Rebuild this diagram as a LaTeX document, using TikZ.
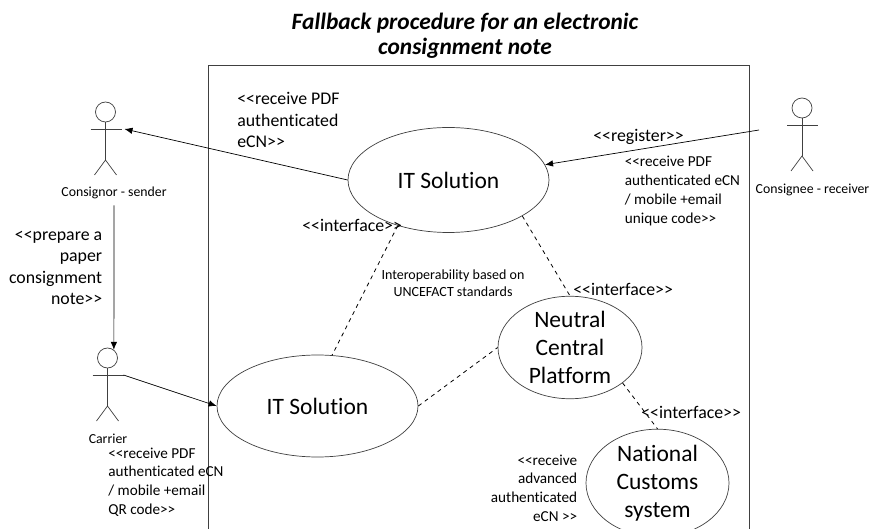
\documentclass[tikz,border=0pt]{standalone}
\usepackage{fontspec}
\usepackage{xcolor}
\usetikzlibrary{arrows.meta}
\usetikzlibrary{shapes.geometric}
\tikzset{>={Latex[length=8pt,width=6.5pt]}}
\newfontfamily\carlito[Ligatures=NoCommon]{Carlito}
\definecolor{linegray}{HTML}{404040}
\tikzset{
	usecase/.style={draw=linegray,ellipse,inner sep=0pt,align=center,font=\carlito\fontsize{23.5}{28}\selectfont},
	note/.style={inner sep=0pt,align=left,anchor=west,font=\carlito\fontsize{15.2}{18.7}\selectfont},
	bignote/.style={inner sep=0pt,font=\carlito\fontsize{17.8}{21.5}\selectfont},
	actorname/.style={inner sep=0pt,font=\carlito\fontsize{13.8}{15}\selectfont},
	link/.style={draw=black,line width=0.8pt,dash pattern=on 4pt off 4pt},
	pics/actor/.style={code={
		\node[draw=linegray,circle,minimum size=20pt,inner sep=0pt] (-head) at (0,0) {};
		\coordinate (-hand) at (16,17);
		\draw[linegray] (-head.south)--(0,48);
		\draw[linegray] (-15,17)--(-hand);
		\draw[linegray] (-11,63)--(0,48)--(11,63);
	}},
}

\begin{document}
\begin{tikzpicture}[x=1pt,y=-1pt,line width=0.7pt]
	\useasboundingbox[fill=white] (0,0) rectangle (870,529);
	\node[font=\carlito\bfseries\itshape\fontsize{23.4}{25}\selectfont,align=center,inner sep=0pt] (title) at (465,35.5) {Fallback procedure for an electronic\\consignment note};
	\coordinate (framebl) at (208.5,529);
	\coordinate (frametl) at (208.5,65.5);
	\coordinate (frametr) at (749,65.5);
	\coordinate (framebr) at (749,529);
	\draw[linegray] (framebl)--(frametl)--(frametr)--(framebr);

	\node[usecase,minimum width=201pt,minimum height=105pt] (solutiontop) at (448.5,180) {IT Solution};
	\node[usecase,minimum width=201pt,minimum height=102pt] (solutionbottom) at (317.5,406) {IT Solution};
	\node[usecase,minimum width=144pt,minimum height=101pt] (platform) at (570,347.5) {Neutral\\Central\\Platform};
	\node[usecase,minimum width=143pt,minimum height=102pt] (customs) at (657.5,483) {National\\Customs\\system};

	\pic (consignor) at (105.5,112) {actor};
	\pic (carrier) at (107.5,358) {actor};
	\pic (consignee) at (802,108) {actor};
	\node[actorname] (consignorname) at (114,193) {Consignor - sender};
	\node[actorname] (carriername) at (108,438.5) {Carrier};
	\node[actorname] (consigneename) at (812.5,190) {Consignee - receiver};
	\coordinate (consigneeend) at (759,130);

	\draw[->] (solutiontop.west)--([xshift=3pt]consignor-hand);
	\draw[->] (consigneeend)--(solutiontop.9);
	\draw[->] (carrier-hand)--(solutionbottom.west);
	\draw[->,shorten <=6pt] (consignorname.south)--(carrier-head.52);

	\draw[link] (solutiontop.222)--(solutionbottom.74);
	\draw[link] (solutiontop.-26)--(platform.north);
	\draw[link] (solutionbottom.east)--(platform.west);
	\draw[link] (platform.-34)--(customs.north);

	\node[bignote,align=left,anchor=west] (receivesender) at (237,120) {<{}<receive PDF\\authenticated\\eCN>{}>};
	\node[bignote,align=right,anchor=east] (preparenote) at (102.5,268) {<{}<prepare a\\paper\\consignment\\note>{}>};
	\node[bignote,anchor=west] (interfaceone) at (302,225) {<{}<interface>{}>};
	\node[bignote,anchor=west] (interfacetwo) at (573,289) {<{}<interface>{}>};
	\node[bignote,anchor=west] (interfacethree) at (641,412) {<{}<interface>{}>};
	\node[bignote,anchor=west] (register) at (593,137) {<{}<register>{}>};
	\node[note] (receiveconsignee) at (624.5,191) {<{}<receive PDF\\authenticated eCN\\/ mobile +email\\unique code>{}>};
	\node[note] (receivecarrier) at (108,482) {<{}<receive PDF\\authenticated eCN\\/ mobile +email\\QR code>{}>};
	\node[note,align=right,anchor=east] (receivecustoms) at (577.5,488) {<{}<receive\\advanced\\authenticated\\eCN >{}>};
	\node[inner sep=0pt,align=center,font=\carlito\fontsize{14}{17}\selectfont] (interop) at (453,283.5) {Interoperability based on\\UNCEFACT standards};
\end{tikzpicture}
\end{document}
